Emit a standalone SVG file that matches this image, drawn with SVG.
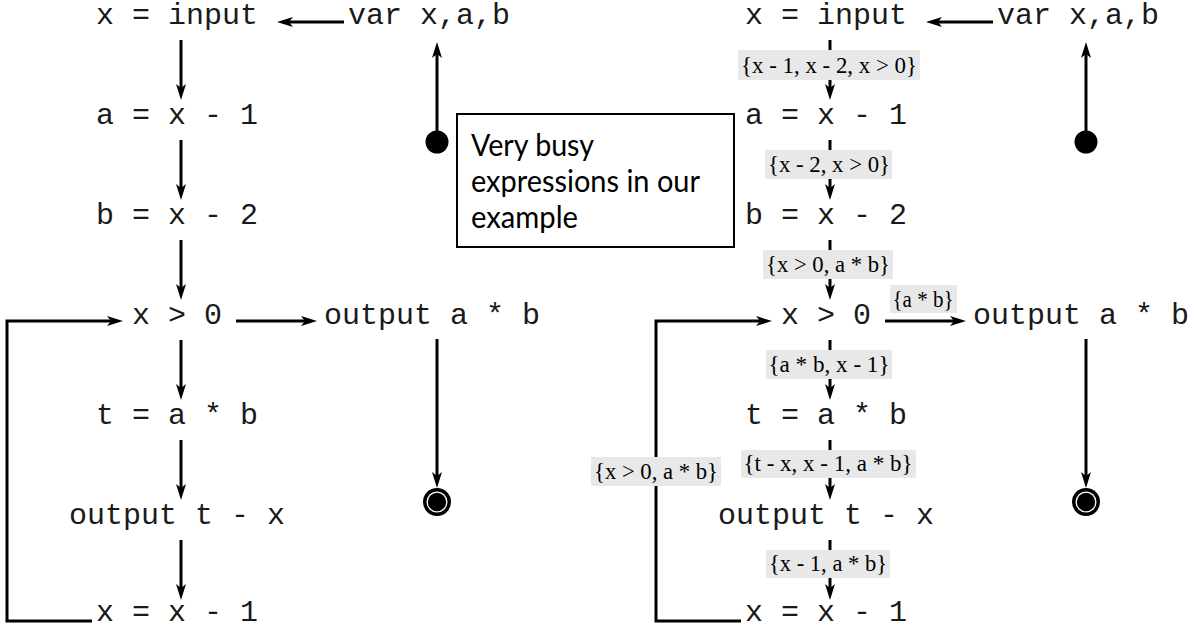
<svg xmlns="http://www.w3.org/2000/svg" width="1194" height="630" viewBox="0 0 1194 630">
  <style>
    .code { font-family: "Liberation Mono", "Courier New", monospace; font-size: 30px; fill: #1a1a1a; }
    .mid { text-anchor: middle; }
    .arrow { fill: none; stroke: #000; stroke-width: 3; marker-end: url(#ah); }
    .lbl rect { fill: #e8e8e8; }
    .lbl text { font-family: "Liberation Serif", "Times New Roman", serif; font-size: 24px; fill: #000; text-anchor: middle; }
    .note { font-family: Lato, "Open Sans", sans-serif; font-size: 30px; fill: #000; }
  </style>
  <defs>
    <marker id="ah" viewBox="0 0 16 12" markerUnits="userSpaceOnUse" markerWidth="16" markerHeight="12" refX="8" refY="6" orient="auto">
      <path d="M0,1 L16,6 L0,11 L4,6 z" fill="#000"/>
    </marker>
  </defs>

  <rect x="0" y="0" width="1194" height="630" fill="#fff"/>

  <!-- ============ LEFT DIAGRAM ============ -->
  <g id="left-connectors">
    <line class="arrow" x1="344" y1="22" x2="285" y2="22"/>
    <line class="arrow" x1="181" y1="40" x2="181" y2="92"/>
    <line class="arrow" x1="181" y1="140" x2="181" y2="192"/>
    <line class="arrow" x1="181" y1="240" x2="181" y2="292"/>
    <line class="arrow" x1="236" y1="321" x2="309" y2="321"/>
    <line class="arrow" x1="181" y1="340" x2="181" y2="392"/>
    <line class="arrow" x1="181" y1="440" x2="181" y2="492"/>
    <line class="arrow" x1="181" y1="540" x2="181" y2="592"/>
    <polyline class="arrow" points="92,621 7,621 7,321 115,321"/>
    <line class="arrow" x1="437" y1="142" x2="437" y2="50"/>
    <line class="arrow" x1="437" y1="339" x2="437" y2="480"/>
  </g>

  <g id="L-input"><text class="code mid" x="177" y="24">x = input</text></g>
  <g id="L-var"><text class="code" x="348" y="24">var x,a,b</text></g>
  <g id="L-a"><text class="code mid" x="177" y="124">a = x - 1</text></g>
  <g id="L-b"><text class="code mid" x="177" y="224">b = x - 2</text></g>
  <g id="L-cond"><text class="code mid" x="177" y="324">x &gt; 0</text></g>
  <g id="L-outab"><text class="code" x="324" y="324">output a * b</text></g>
  <g id="L-t"><text class="code mid" x="177" y="424">t = a * b</text></g>
  <g id="L-outtx"><text class="code mid" x="177" y="524">output t - x</text></g>
  <g id="L-dec"><text class="code mid" x="177" y="621">x = x - 1</text></g>
  <g id="L-start"><circle cx="437" cy="142" r="11.5" fill="#000"/></g>
  <g id="L-end">
    <circle cx="437" cy="502" r="14" fill="#000"/>
    <circle cx="437" cy="502" r="10.5" fill="#fff"/>
    <circle cx="437" cy="502" r="9.2" fill="#000"/>
  </g>

  <!-- Note box -->
  <g id="note">
    <rect x="457" y="114" width="277" height="133" fill="#fff" stroke="#000" stroke-width="2"/>
    <text class="note" x="471" y="156" textLength="123" lengthAdjust="spacingAndGlyphs">Very busy</text>
    <text class="note" x="471" y="192" textLength="229" lengthAdjust="spacingAndGlyphs">expressions in our</text>
    <text class="note" x="471" y="228" textLength="107" lengthAdjust="spacingAndGlyphs">example</text>
  </g>

  <!-- ============ RIGHT DIAGRAM ============ -->
  <g id="right-connectors">
    <line class="arrow" x1="993" y1="22" x2="934" y2="22"/>
    <line class="arrow" x1="830" y1="40" x2="830" y2="92"/>
    <line class="arrow" x1="830" y1="140" x2="830" y2="192"/>
    <line class="arrow" x1="830" y1="240" x2="830" y2="292"/>
    <line class="arrow" x1="885" y1="321" x2="958" y2="321"/>
    <line class="arrow" x1="830" y1="340" x2="830" y2="392"/>
    <line class="arrow" x1="830" y1="440" x2="830" y2="492"/>
    <line class="arrow" x1="830" y1="540" x2="830" y2="592"/>
    <polyline class="arrow" points="741,621 656,621 656,321 764,321"/>
    <line class="arrow" x1="1086" y1="142" x2="1086" y2="50"/>
    <line class="arrow" x1="1086" y1="339" x2="1086" y2="480"/>
  </g>

  <g id="edge-labels">
    <g class="lbl"><rect x="738" y="50" width="182" height="30"/><text x="829" y="73" textLength="176" lengthAdjust="spacingAndGlyphs">{x - 1, x - 2, x &gt; 0}</text></g>
    <g class="lbl"><rect x="765" y="150" width="127" height="29"/><text x="829" y="172" textLength="122" lengthAdjust="spacingAndGlyphs">{x - 2, x &gt; 0}</text></g>
    <g class="lbl"><rect x="763" y="250" width="130" height="29"/><text x="828" y="272" textLength="124" lengthAdjust="spacingAndGlyphs">{x &gt; 0, a * b}</text></g>
    <g class="lbl"><rect x="890" y="285" width="67" height="28"/><text x="923" y="307" textLength="61" lengthAdjust="spacingAndGlyphs">{a * b}</text></g>
    <g class="lbl"><rect x="766" y="350" width="126" height="29"/><text x="829" y="372" textLength="121" lengthAdjust="spacingAndGlyphs">{a * b, x - 1}</text></g>
    <g class="lbl"><rect x="741" y="450" width="175" height="28"/><text x="828" y="471" textLength="169" lengthAdjust="spacingAndGlyphs">{t - x, x - 1, a * b}</text></g>
    <g class="lbl"><rect x="766" y="550" width="124" height="28"/><text x="828" y="571" textLength="118" lengthAdjust="spacingAndGlyphs">{x - 1, a * b}</text></g>
    <g class="lbl"><rect x="591" y="457" width="130" height="29"/><text x="656" y="479" textLength="124" lengthAdjust="spacingAndGlyphs">{x &gt; 0, a * b}</text></g>
  </g>

  <g id="R-input"><text class="code mid" x="826" y="24">x = input</text></g>
  <g id="R-var"><text class="code" x="997" y="24">var x,a,b</text></g>
  <g id="R-a"><text class="code mid" x="826" y="124">a = x - 1</text></g>
  <g id="R-b"><text class="code mid" x="826" y="224">b = x - 2</text></g>
  <g id="R-cond"><text class="code mid" x="826" y="324">x &gt; 0</text></g>
  <g id="R-outab"><text class="code" x="973" y="324">output a * b</text></g>
  <g id="R-t"><text class="code mid" x="826" y="424">t = a * b</text></g>
  <g id="R-outtx"><text class="code mid" x="826" y="524">output t - x</text></g>
  <g id="R-dec"><text class="code mid" x="826" y="621">x = x - 1</text></g>
  <g id="R-start"><circle cx="1086" cy="142" r="11.5" fill="#000"/></g>
  <g id="R-end">
    <circle cx="1086" cy="502" r="14" fill="#000"/>
    <circle cx="1086" cy="502" r="10.5" fill="#fff"/>
    <circle cx="1086" cy="502" r="9.2" fill="#000"/>
  </g>
</svg>
